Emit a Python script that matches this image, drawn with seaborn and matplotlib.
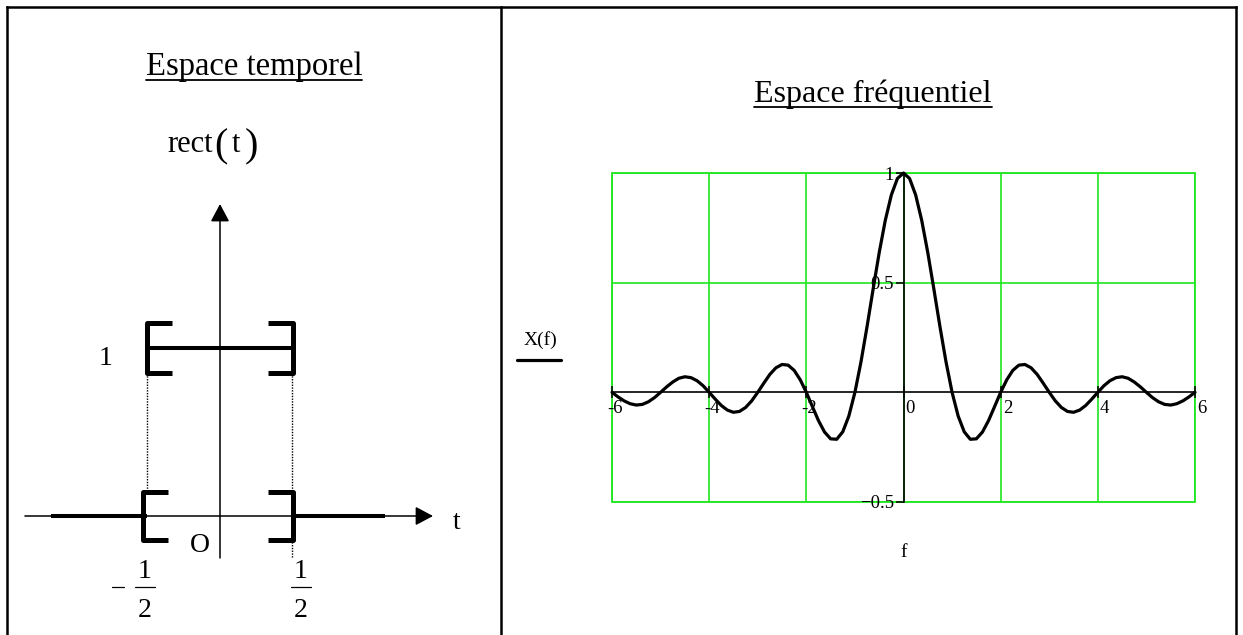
import numpy as np
import pandas as pd
import matplotlib
matplotlib.use("Agg")
import matplotlib.pyplot as plt
from matplotlib.lines import Line2D
from matplotlib.transforms import ScaledTranslation
import seaborn as sns

# ---------------- data ----------------
# frequency-domain curve X(f), read from the picture (sampled every 1/8)
freq = np.linspace(-6, 6, 97)
X_vals = [
    0.000, -0.021, -0.039, -0.052, -0.058, -0.055, -0.043, -0.024,
    0.000, 0.025, 0.047, 0.064, 0.071, 0.067, 0.053, 0.030,
    0.000, -0.031, -0.060, -0.081, -0.091, -0.087, -0.069, -0.039,
    0.000, 0.042, 0.082, 0.112, 0.127, 0.124, 0.100, 0.057,
    0.000, -0.065, -0.129, -0.181, -0.212, -0.214, -0.180, -0.108,
    0.000, 0.139, 0.300, 0.471, 0.637, 0.784, 0.900, 0.975,
    1.000,
    0.975, 0.900, 0.784, 0.637, 0.471, 0.300, 0.139, 0.000,
    -0.108, -0.180, -0.214, -0.212, -0.181, -0.129, -0.065, 0.000,
    0.057, 0.100, 0.124, 0.127, 0.112, 0.082, 0.042, 0.000,
    -0.039, -0.069, -0.087, -0.091, -0.081, -0.060, -0.031, 0.000,
    0.030, 0.053, 0.067, 0.071, 0.064, 0.047, 0.025, 0.000,
    -0.024, -0.043, -0.055, -0.058, -0.052, -0.039, -0.021, 0.000,
]
x_ticks = [-6, -4, -2, 0, 2, 4, 6]
x_ticklabels = ["-6", "-4", "-2", "0", "2", "4", "6"]
y_ticks = [-0.5, 0.5, 1.0]
y_ticklabels = ["\u22120.5", "0.5", "1"]

# time-domain rect(t)
pulse_edges = [-0.5, 0.5]
pulse_high = 1.0
pulse_low = 0.0
tail_left = [-1.16, -0.5]
tail_right = [0.5, 1.13]
t_axis = [-1.336, 1.459]
v_axis = [-0.25, 1.857]

# ---------------- figure ----------------
sns.set_theme(style="white")
plt.rcParams["font.family"] = ["Liberation Serif", "DejaVu Serif"]
plt.rcParams["text.color"] = "black"
plt.rcParams["axes.labelcolor"] = "black"
plt.rcParams["xtick.color"] = "black"
plt.rcParams["ytick.color"] = "black"

W, H = 1243, 635
fig = plt.figure(figsize=(W / 100, H / 100), dpi=100)
fig.patch.set_facecolor("white")


def fx(px):
    return px / W


def fy(py):
    return 1 - py / H


# table borders
bkw = dict(color="black", lw=1.8, transform=fig.transFigure, solid_capstyle="projecting", zorder=10)
fig.add_artist(Line2D([fx(7), fx(1236)], [fy(7), fy(7)], **bkw))
fig.add_artist(Line2D([fx(7), fx(7)], [fy(7), fy(640)], **bkw))
fig.add_artist(Line2D([fx(1236), fx(1236)], [fy(7), fy(640)], **bkw))
fig.add_artist(Line2D([fx(500.5), fx(500.5)], [fy(7), fy(640)], **bkw))

# titles with underline
renderer = fig.canvas.get_renderer()


def title_with_underline(cx, base_py, line_py, text, size):
    t = fig.text(fx(cx), fy(base_py), text, ha="center", va="baseline",
                 fontsize=size, color="black")
    bb = t.get_window_extent(renderer)
    fig.add_artist(Line2D([bb.x0 / W, bb.x1 / W], [fy(line_py), fy(line_py)],
                          color="black", lw=1.3, transform=fig.transFigure))


title_with_underline(254, 75, 79.5, "Espace temporel", 23.5)
title_with_underline(873, 102, 106.5, "Espace fréquentiel", 23)

# ---------------- left panel: rect(t) ----------------
X0, SX, Y0, SY = 220.0, 146.0, 516.0, 168.0
ax_l = fig.add_axes([fx(7), 0, (500 - 7) / W, (635 - 7) / H])
ax_l.set_xlim((7 - X0) / SX, (500 - X0) / SX)
ax_l.set_ylim((Y0 - 635) / SY, (Y0 - 7) / SY)
ax_l.axis("off")
ax_l.patch.set_alpha(0)

akw = dict(arrowstyle="-|>,head_length=0.6,head_width=0.32", lw=1.1, color="black",
           mutation_scale=18, shrinkA=0, shrinkB=0)
ax_l.annotate("", xy=(t_axis[1], 0), xytext=(t_axis[0], 0), arrowprops=akw)
ax_l.annotate("", xy=(0, v_axis[1]), xytext=(0, v_axis[0]), arrowprops=akw)

thick = dict(color="black", lw=2.9, solid_capstyle="butt")
ax_l.plot(tail_left, [pulse_low, pulse_low], **thick)
ax_l.plot(tail_right, [pulse_low, pulse_low], **thick)
ax_l.plot(pulse_edges, [pulse_high, pulse_high], **thick)

# brackets
arm = 0.17
brk = dict(color="black", lw=3.6, solid_joinstyle="round", solid_capstyle="butt")


def bracket(x, yc, h, direction):
    xa = x + direction * arm
    ax_l.plot([xa, x, x, xa], [yc + h, yc + h, yc - h, yc - h], **brk)


bracket(pulse_edges[0], pulse_high, 0.149, +1)
bracket(pulse_edges[1], pulse_high, 0.149, -1)
bracket(pulse_edges[0] - 0.025, pulse_low, 0.143, +1)
bracket(pulse_edges[1], pulse_low, 0.143, -1)

dot = dict(color="black", lw=1.0, linestyle=(0, (1, 1)))
ax_l.plot([pulse_edges[0], pulse_edges[0]], [0.851, 0.149], **dot)
ax_l.plot([pulse_edges[1] - 0.01, pulse_edges[1] - 0.01], [0.851, 0.149], **dot)
ax_l.plot([pulse_edges[1] - 0.01, pulse_edges[1] - 0.01], [-0.137, -0.244], **dot)

ax_l.text(-0.781, 0.94, "1", ha="center", va="center", fontsize=20)
ax_l.text(-0.137, -0.173, "O", ha="center", va="center", fontsize=20)
ax_l.text(1.623, -0.036, "t", ha="center", va="center", fontsize=20)

# fractions -1/2 and 1/2
for cx, neg in ((-0.514, True), (0.555, False)):
    ax_l.text(cx, -0.333, "1", ha="center", va="center", fontsize=20)
    ax_l.text(cx, -0.560, "2", ha="center", va="center", fontsize=20)
    ax_l.plot([cx - 0.068, cx + 0.068], [-0.423, -0.423], color="black", lw=0.9)
    if neg:
        ax_l.plot([-0.74, -0.66], [-0.423, -0.423], color="black", lw=0.9)

# rect(t)
ax_l.text(-0.363, 2.167, "rect", ha="left", va="baseline", fontsize=22)
ax_l.text(0.007, 2.14, "(", ha="center", va="baseline", fontsize=29)
ax_l.text(0.11, 2.167, "t", ha="center", va="baseline", fontsize=22)
ax_l.text(0.212, 2.14, ")", ha="center", va="baseline", fontsize=29)

# ---------------- right panel: X(f) ----------------
green = "#1ee61e"
ax_r = fig.add_axes([fx(612), fy(502), 583 / W, 329 / H])
ax_r.set_facecolor("white")
ax_r.patch.set_edgecolor(green)
ax_r.patch.set_linewidth(1.3)
df = pd.DataFrame({"f": freq, "X": X_vals})
sns.lineplot(data=df, x="f", y="X", ax=ax_r, color="black", lw=2.3, zorder=5, sort=False)
ax_r.lines[-1].set_clip_on(False)
ax_r.set_xlim(-6, 6)
ax_r.set_ylim(-0.5, 1)

ax_r.set_xticks(x_ticks)
ax_r.set_xticklabels(x_ticklabels)
ax_r.set_yticks(y_ticks)
ax_r.set_yticklabels(y_ticklabels)
ax_r.grid(True, color=green, lw=1.2)

for side in ("top", "right"):
    ax_r.spines[side].set_visible(False)
ax_r.spines["left"].set_position(("data", 0))
ax_r.spines["bottom"].set_position(("data", 0))
for side in ("left", "bottom"):
    ax_r.spines[side].set_color("black")
    ax_r.spines[side].set_linewidth(1.2)
    ax_r.spines[side].set_zorder(3)

ax_r.tick_params(axis="x", bottom=True, direction="inout", length=9, width=1.1,
                 pad=1, labelsize=13.5, colors="black")
ax_r.tick_params(axis="y", left=True, direction="out", length=6, width=1.1,
                 pad=1, labelsize=13.5, colors="black")

for lbl, val in zip(ax_r.get_xticklabels(), x_ticks):
    lbl.set_horizontalalignment("left")
    dx = -5 if val < 0 else 2
    lbl.set_transform(lbl.get_transform() + ScaledTranslation(dx / 100, 0, fig.dpi_scale_trans))

ax_r.set_xlabel("f", fontsize=14, color="black")
ax_r.xaxis.set_label_coords(0.5, (502 - 544) / 329)
ax_r.set_ylabel("X(f)", fontsize=14, rotation=0, ha="center", va="center", color="black")
ax_r.yaxis.set_label_coords((540 - 612) / 583, (502 - 340) / 329)
ax_r.add_line(Line2D([(517 - 612) / 583, (561 - 612) / 583],
                     [(502 - 360) / 329, (502 - 360) / 329],
                     color="black", lw=2.3, transform=ax_r.transAxes, clip_on=False))

fig.savefig("out.png", dpi=100, facecolor="white")
